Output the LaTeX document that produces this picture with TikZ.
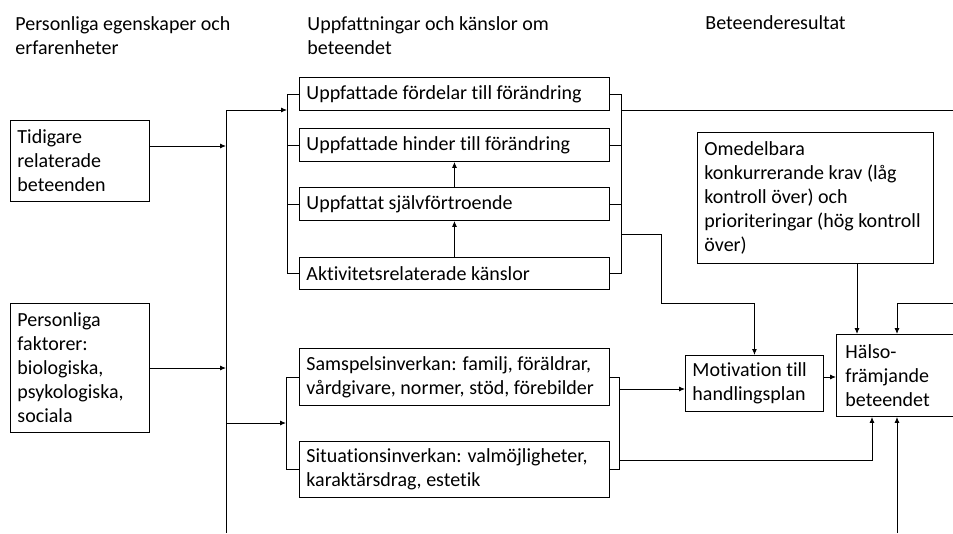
\documentclass[tikz,border=0pt]{standalone}
\usepackage{fontspec}
\setmainfont{Carlito}[Ligatures=NoCommon]
\usepackage{tikz}
\usetikzlibrary{positioning,arrows.meta}

\begin{document}
\begin{tikzpicture}[x=1pt,y=-1pt,>={Latex[length=6pt,width=5pt]},
  line width=0.9pt,
  every node/.style={font=\fontsize{20}{24}\selectfont},
  hdr/.style={anchor=west,align=flush left,inner sep=0pt},
  box/.style={draw,anchor=north west,align=flush left,inner xsep=7pt,inner ysep=0pt}]
\clip (0,0) rectangle (953,533);
\node[hdr] (hdrA) at (15,35.5) {Personliga egenskaper och\\erfarenheter};
\node[hdr] (hdrB) at (307,35.5) {Uppfattningar och känslor om\\beteendet};
\node[hdr] (hdrC) at (705,23) {Beteenderesultat};
\node[box,text width=125pt,minimum height=81pt] (tidig) at (10,120) {Tidigare\\relaterade\\beteenden};
\node[box,text width=125pt,minimum height=129pt] (pers) at (10,303) {Personliga\\faktorer:\\biologiska,\\psykologiska,\\sociala};
\node[box,text width=296pt,minimum height=33pt] (fordel) at (299,77) {Uppfattade fördelar till förändring};
\node[box,text width=296pt,minimum height=33pt] (hinder) at (299,128) {Uppfattade hinder till förändring};
\node[box,text width=296pt,minimum height=33pt] (sjalv) at (299,187) {Uppfattat självförtroende};
\node[box,text width=296pt,minimum height=32pt] (aktiv) at (299,257) {Aktivitetsrelaterade känslor};
\node[box,text width=296pt,minimum height=57pt] (samspel) at (299,348) {Samspelsinverkan: familj, föräldrar,\\vårdgivare, normer, stöd, förebilder};
\node[box,text width=296pt,minimum height=56pt] (situat) at (299,441) {Situationsinverkan: valmöjligheter,\\karaktärsdrag, estetik};
\node[box,text width=222pt,minimum height=131pt] (omed) at (697,132) {Omedelbara\\konkurrerande krav (låg\\kontroll över) och\\prioriteringar (hög kontroll\\över)};
\node[box,text width=124pt,minimum height=56pt] (motiv) at (685,355) {Motivation till\\handlingsplan};
\node[box,inner xsep=9pt,text width=122pt,minimum height=82pt] (halso) at (836,334) {Hälso-\\främjande\\beteendet};
\coordinate (spTop) at (226,110);
\coordinate (spBot) at (226,533);
\coordinate (brA) at (287,0);
\coordinate (brB) at (621,0);
\coordinate (brC) at (286,0);
\coordinate (brD) at (619,0);
\draw (spTop) -- (spBot);
\draw[->] (tidig.east |- 0,146) -- (spTop |- 0,146);
\draw[->] (pers.east |- 0,368) -- (spTop |- 0,368);
\draw[->] (spTop) -- (spTop -| brA);
\draw[->] (spTop |- 0,423) -- (brC |- 0,423);
\draw (fordel.west) -- (fordel.west -| brA) -- (aktiv.west -| brA) -- (aktiv.west);
\draw (hinder.west) -- (hinder.west -| brA);
\draw (sjalv.west) -- (sjalv.west -| brA);
\draw (fordel.east) -- (fordel.east -| brB) -- (aktiv.east -| brB) -- (aktiv.east);
\draw (hinder.east) -- (hinder.east -| brB);
\draw (sjalv.east) -- (sjalv.east -| brB);
\draw[->] (aktiv.north) -- (sjalv.south);
\draw[->] (sjalv.north) -- (hinder.south);
\draw (samspel.west) -- (samspel.west -| brC) -- (situat.west -| brC) -- (situat.west);
\draw (samspel.east) -- (samspel.east -| brD) -- (situat.east -| brD) -- (situat.east);
\draw (brB |- spTop) -- (953,110);
\draw[->] (brB |- 0,234) -| (661,303) -| (motiv.north);
\draw[->] (brD |- 0,389) -- (motiv.west |- 0,389);
\draw[->] (brD |- 0,460) -| (halso.south -| 872,0);
\draw[->] (motiv.east |- 0,377) -- (halso.west |- 0,377);
\draw[->] (omed.south -| 857,0) -- (halso.north -| 857,0);
\draw[->] (953,303) -| (halso.north -| 897,0);
\draw[->] (897,533) -- (halso.south -| 897,0);
\end{tikzpicture}
\end{document}
